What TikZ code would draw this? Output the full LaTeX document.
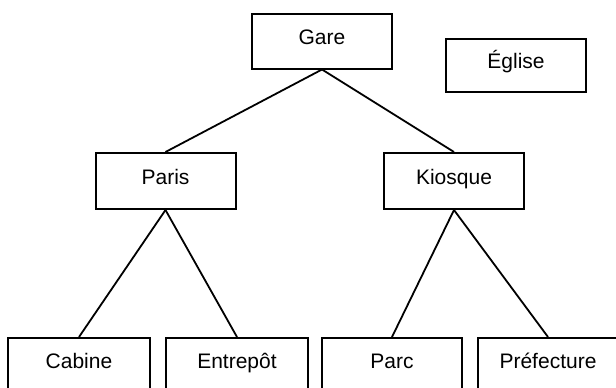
\documentclass[tikz,border=0pt]{standalone}
\usepackage{fontspec}
\setmainfont{Liberation Sans}
\begin{document}
\begin{tikzpicture}[x=1pt,y=-1pt,
  box/.style={draw=black,line width=2pt,minimum width=140pt,minimum height=55pt,
    inner sep=0pt,font=\fontsize{21}{25}\selectfont,text height=15pt,text depth=9pt},
  link/.style={draw=black,line width=1.8pt}]
\useasboundingbox (0,0) rectangle (616,388);
\node[box] (gare) at (322,41) {Gare};
\node[box,minimum height=53pt] (eglise) at (516,65) {Église};
\node[box,minimum height=56pt] (paris) at (165.5,181) {Paris};
\node[box,minimum height=56pt] (kiosque) at (454,181) {Kiosque};
\node[box,minimum width=142pt] (cabine) at (79,365.5) {Cabine};
\node[box,minimum width=142pt] (entrepot) at (237,365.5) {Entrepôt};
\node[box] (parc) at (392,365.5) {Parc};
\node[box] (prefecture) at (548,365.5) {Préfecture};
\draw[link] (gare.south) -- (paris.north);
\draw[link] (gare.south) -- (kiosque.north);
\draw[link] (paris.south) -- (cabine.north);
\draw[link] (paris.south) -- (entrepot.north);
\draw[link] (kiosque.south) -- (parc.north);
\draw[link] (kiosque.south) -- (prefecture.north);
\end{tikzpicture}
\end{document}
